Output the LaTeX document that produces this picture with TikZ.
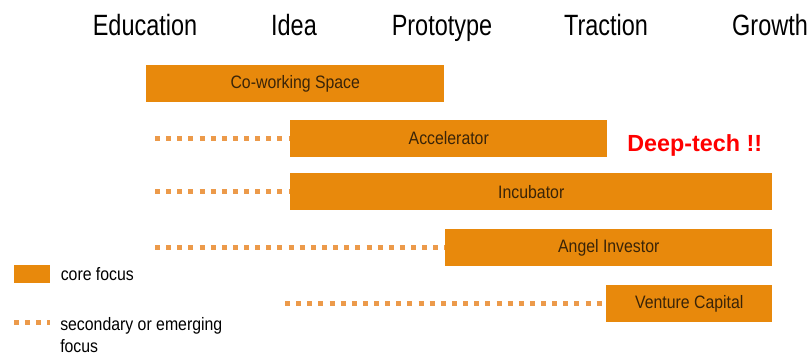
\documentclass[tikz,border=0pt]{standalone}
\usepackage{fontspec}
\setmainfont{Liberation Sans}
\usetikzlibrary{positioning}
\definecolor{barorange}{HTML}{E8890C}
\definecolor{dotorange}{HTML}{EC9A4A}
\definecolor{bartext}{HTML}{3A2408}
\newcommand*{\squeeze}[2][0.88]{\scalebox{#1}[1]{#2}}

\begin{document}
\begin{tikzpicture}[x=0.75pt,y=-0.75pt,
stage/.style ={anchor=base, inner sep=0pt, font=\fontsize{22}{24}\selectfont},
bar/.style ={rectangle, draw=none, fill=barorange, anchor=west, inner sep=0pt, minimum height=27.75pt, text=bartext, font=\fontsize{13.5}{15}\selectfont},
lead/.style ={draw=dotorange, line width=3.75pt, dash pattern=on 3.75pt off 4.6pt},
legend_text/.style ={anchor=west, inner sep=0pt, font=\fontsize{13.5}{16.5}\selectfont}]
  \useasboundingbox (0,0) rectangle (811,359);
  % stages along the top
    \node [stage] (edu)   at (145,36) {\squeeze[0.8]{Education}};
    \node [stage] (idea)  at (294,36) {\squeeze[0.8]{Idea}};
    \node [stage] (proto) at (442,36) {\squeeze[0.8]{Prototype}};
    \node [stage] (trac)  at (606,36) {\squeeze[0.8]{Traction}};
    \node [stage] (grow)  at (770,36) {\squeeze[0.8]{Growth}};
  % where the dotted leads start
    \coordinate (acc_from)   at (155,138.5);
    \coordinate (inc_from)   at (155,192);
    \coordinate (angel_from) at (155,247.5);
    \coordinate (vc_from)    at (285,304);
  % dotted leads: secondary or emerging focus
    \begin{scope}[every path/.style=lead]
      \path (acc_from)   -- (290,138.5);
      \path (inc_from)   -- (290,192);
      \path (angel_from) -- (445,247.5);
      \path (vc_from)    -- (606,304);
    \end{scope}
  % bars: core focus
    \node [bar, minimum width=223.5pt]  (cowork) at (146,84)    {\squeeze{Co-working Space}};
    \node [bar, minimum width=237.75pt] (acc)    at (290,138.5) {\squeeze{Accelerator}};
    \node [bar, minimum width=361.5pt]  (inc)    at (290,192)   {\squeeze{Incubator}};
    \node [bar, minimum width=245.25pt] (angel)  at (445,247.5) {\squeeze{Angel Investor}};
    \node [bar, minimum width=124.5pt]  (vc)     at (606,304)   {\squeeze{Venture Capital}};
    \node [anchor=west, inner sep=0pt, text=red, font=\bfseries\fontsize{17.5}{19}\selectfont] (deep) at (627,145) {Deep-tech !!};
  % legend
    \node [bar, minimum width=27pt, minimum height=13.5pt] (key_core) at (14,274) {};
    \node [legend_text, right=7.5pt of key_core] (core_txt) {\squeeze{core focus}};
    \coordinate (key_dots) at (14,323);
    \path [lead] (key_dots) -- (50,323);
    \node [legend_text, anchor=north west] (sec_txt) at (60,315)
      {\squeeze{\begin{tabular}{@{}l@{}}secondary or emerging\\focus\end{tabular}}};
\end{tikzpicture}
\end{document}
